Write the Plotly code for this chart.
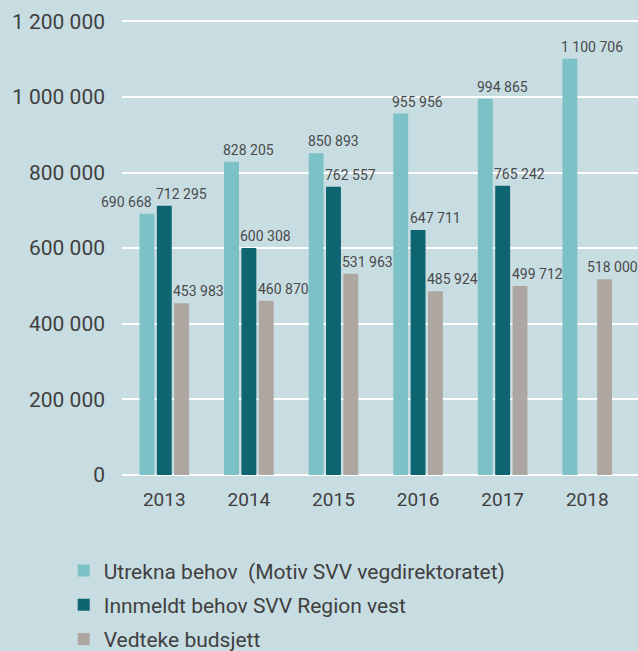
import plotly.graph_objects as go

years = ["2013", "2014", "2015", "2016", "2017", "2018"]
utrekna = [690668, 828205, 850893, 955956, 994865, 1100706]
innmeldt = [712295, 600308, 762557, 647711, 765242, None]
budsjett = [453983, 460870, 531963, 485924, 499712, 518000]

names = ["Utrekna behov \u00a0(Motiv SVV vegdirektoratet)",
         "Innmeldt behov SVV Region vest",
         "Vedteke budsjett"]
colors = ["#7cc1c6", "#0f6472", "#aea7a1"]
BG = "#c8dde2"
TXT = "#404040"

BARGAP = 0.385
GROUPGAP = 0.14
slot = (1 - BARGAP) / 3
half_bar = slot * (1 - GROUPGAP) / 2


def fmt(v):
    return f"{v:,}".replace(",", " ")


fig = go.Figure()
for i, (name, vals) in enumerate(zip(names, [utrekna, innmeldt, budsjett])):
    fig.add_trace(go.Bar(x=years, y=vals, name=name, legendgroup=str(i),
                         marker=dict(color=colors[i], line=dict(width=0))))

# value labels, mostly left-aligned to the left edge of each bar
for i, vals in enumerate([utrekna, innmeldt, budsjett]):
    offset = (i - 1) * slot
    for j, v in enumerate(vals):
        if v is None:
            continue
        if i == 0 and j == 0:
            x, anchor, shift = j + offset + half_bar, "right", 0
        else:
            x, anchor, shift = j + offset - half_bar, "left", -3
        if j == 5 and i == 2:
            shift = -12
        fig.add_annotation(x=x, y=v, text=fmt(v), showarrow=False,
                           xanchor=anchor, yanchor="middle", xshift=shift,
                           yshift=12, font=dict(size=14, color="#4a4a4a"))

fig.update_layout(
    width=638, height=651,
    margin=dict(l=122, r=0, t=19, b=176, autoexpand=False),
    paper_bgcolor=BG, plot_bgcolor=BG,
    font=dict(family="Roboto", color=TXT),
    separators=", ",
    barmode="group", bargap=BARGAP, bargroupgap=GROUPGAP,
    showlegend=True,
    legend=dict(orientation="v", x=-0.113, y=-0.165, xanchor="left",
                yanchor="top", tracegroupgap=4,
                font=dict(size=21, color=TXT),
                bgcolor="rgba(0,0,0,0)"),
)
fig.update_xaxes(range=[-0.5, 5.6], showgrid=False, showline=False,
                 tickfont=dict(size=19, color=TXT), ticks="",
                 ticklabelstandoff=11)
fig.update_yaxes(range=[0, 1206000], tickvals=[0, 200000, 400000, 600000,
                                               800000, 1000000, 1200000],
                 tickformat=",d", showgrid=True, gridcolor="white",
                 gridwidth=2, zeroline=True, zerolinecolor="white",
                 zerolinewidth=2, tickfont=dict(size=21, color=TXT),
                 ticklabelstandoff=16)

fig.write_html("out.html", config={"displayModeBar": False},
               post_script="document.body.style.margin='0';"
                           "document.body.style.background='%s';" % BG)
